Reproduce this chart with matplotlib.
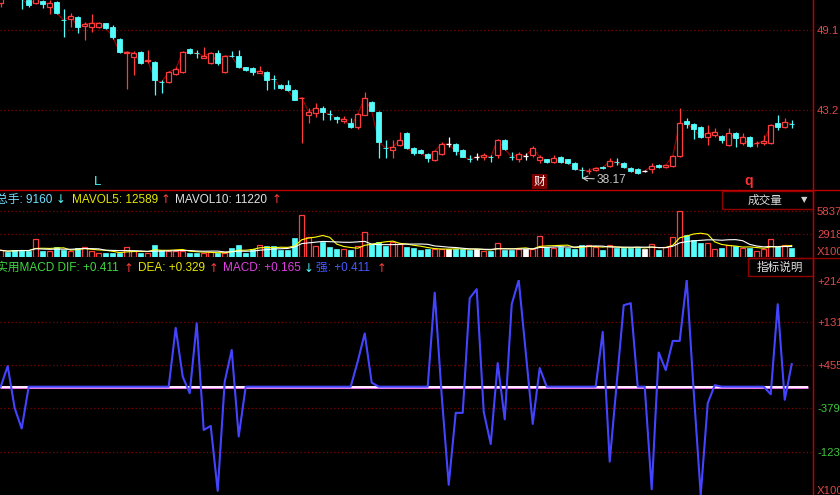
import matplotlib
matplotlib.use('Agg')
import matplotlib.pyplot as plt
from matplotlib.lines import Line2D
from matplotlib.patches import Rectangle
import matplotlib.transforms as mtrans
import numpy as np
import pandas as pd

plt.rcParams['font.family'] = ['Liberation Sans', 'Noto Sans CJK SC', 'DejaVu Sans']

# ---------------- data ----------------
opens = [51.10, 52.00, 52.20, 51.80, 51.31, 51.09, 51.24, 50.79, 51.16, 49.84,
         49.91, 50.06, 49.39, 49.32, 49.32, 49.61, 49.32, 48.43, 47.40, 47.11,
         47.47, 46.80, 46.74, 45.28, 45.26, 45.85, 46.00, 47.70, 47.42, 47.03,
         46.66, 47.40, 46.00, 47.20, 47.18, 46.37, 46.30, 45.93, 46.00, 45.50,
         45.04, 45.04, 44.67, 44.08, 42.83, 42.98, 43.34, 42.92, 42.68, 42.39,
         42.24, 41.94, 42.83, 43.79, 43.05, 40.42, 40.25, 40.62, 41.50, 40.40,
         40.25, 39.95, 39.51, 39.95, 40.69, 40.69, 40.25, 39.60, 39.73, 39.73,
         39.75, 39.88, 40.99, 39.75, 39.58, 39.81, 39.88, 39.51, 39.58, 39.36,
         39.73, 39.58, 39.29, 38.80, 38.70, 38.77, 39.00, 39.07, 39.38, 39.29,
         38.92, 38.85, 38.70, 38.85, 39.14, 39.00, 39.07, 39.81, 42.39, 42.17,
         41.94, 41.21, 41.35, 41.28, 40.62, 41.50, 40.76, 41.21, 40.74, 40.76,
         40.76, 42.24, 41.94, 42.19]
closes = [51.60, 51.60, 51.80, 51.40, 50.94, 51.35, 51.02, 51.09, 50.35, 49.82,
          50.13, 49.32, 49.54, 49.61, 49.61, 49.25, 48.58, 47.47, 47.47, 47.40,
          46.66, 46.85, 45.41, 45.26, 46.00, 46.22, 47.47, 47.40, 47.40, 47.18,
          47.40, 46.66, 47.18, 47.18, 46.37, 46.15, 46.00, 46.07, 45.41, 45.48,
          44.82, 44.67, 43.94, 44.12, 43.05, 43.34, 43.05, 42.90, 42.53, 42.53,
          41.94, 42.90, 44.08, 43.12, 40.84, 40.40, 40.47, 40.99, 40.40, 40.03,
          40.03, 39.66, 40.17, 40.69, 40.69, 40.17, 39.73, 39.58, 39.73, 39.88,
          39.73, 40.99, 40.32, 39.73, 39.95, 39.81, 40.40, 39.73, 39.36, 39.66,
          39.36, 39.29, 38.85, 38.77, 38.72, 38.92, 38.92, 39.44, 39.36, 39.00,
          38.70, 38.55, 38.70, 39.07, 39.00, 39.14, 39.81, 42.24, 42.17, 41.80,
          41.21, 41.50, 41.58, 40.99, 41.50, 41.13, 41.21, 40.54, 40.76, 40.91,
          42.09, 41.94, 42.31, 42.17]
highs = [51.90, 52.30, 52.50, 52.00, 51.40, 51.50, 51.31, 51.31, 51.24, 50.65,
         50.35, 50.13, 49.69, 50.28, 49.70, 49.65, 49.47, 48.50, 47.55, 47.55,
         47.55, 47.62, 46.80, 45.41, 46.05, 46.37, 47.55, 47.75, 47.62, 47.84,
         47.45, 47.62, 47.25, 47.55, 47.62, 46.40, 46.35, 46.44, 46.05, 45.78,
         45.10, 45.41, 44.75, 44.15, 43.34, 43.71, 43.49, 43.20, 42.75, 42.76,
         42.61, 42.95, 44.53, 43.85, 43.10, 40.99, 40.99, 41.58, 41.55, 40.45,
         40.30, 40.00, 40.22, 40.84, 41.21, 40.75, 40.30, 39.88, 40.03, 40.03,
         39.88, 41.05, 41.05, 40.10, 40.10, 40.03, 40.54, 39.88, 39.62, 39.88,
         39.80, 39.62, 39.33, 39.00, 38.92, 39.00, 39.07, 39.66, 39.66, 39.36,
         38.97, 38.90, 38.80, 39.29, 39.20, 39.18, 39.85, 43.34, 42.61, 42.25,
         42.00, 42.09, 41.87, 41.35, 41.87, 41.55, 41.50, 41.25, 40.91, 41.35,
         42.15, 42.83, 42.61, 42.46]
lows = [50.80, 51.40, 51.50, 50.65, 50.79, 51.00, 50.72, 50.28, 50.30, 48.58,
        49.32, 48.88, 48.36, 48.95, 49.25, 49.20, 48.43, 47.40, 44.75, 45.78,
        46.60, 46.70, 44.30, 44.45, 45.20, 45.80, 45.95, 47.35, 47.03, 47.00,
        46.60, 46.52, 45.95, 47.11, 46.30, 46.10, 45.78, 45.90, 44.67, 44.75,
        44.75, 44.60, 43.90, 40.76, 42.24, 42.68, 42.46, 42.46, 42.24, 42.24,
        41.87, 41.80, 42.80, 43.10, 39.66, 39.66, 39.66, 40.55, 40.35, 39.88,
        39.95, 39.36, 39.45, 39.90, 40.47, 39.88, 39.70, 39.36, 39.51, 39.51,
        39.36, 39.66, 40.28, 39.51, 39.36, 39.51, 39.73, 39.29, 39.30, 39.29,
        39.30, 39.22, 38.80, 38.17, 38.50, 38.72, 38.85, 39.00, 39.14, 38.95,
        38.65, 38.50, 38.60, 38.55, 38.95, 38.95, 39.00, 39.75, 41.87, 41.06,
        41.15, 40.62, 41.21, 40.76, 40.58, 40.47, 40.62, 40.50, 40.47, 40.62,
        40.70, 41.72, 41.87, 41.87]
volumes = [850, 635, 888, 926, 761, 2221, 761, 761, 1206, 888,
           761, 1142, 1332, 761, 508, 508, 508, 508, 1206, 761,
           508, 508, 1586, 888, 761, 761, 761, 508, 571, 508,
           635, 508, 508, 1142, 1561, 571, 1000, 1561, 1358, 1396,
           888, 888, 2411, 5330, 2538, 1459, 1904, 1269, 1015, 1015,
           825, 1459, 3109, 1713, 1904, 1459, 1904, 1713, 1269, 1079,
           888, 1053, 1053, 977, 1053, 1053, 977, 926, 1053, 761,
           761, 1815, 926, 926, 1053, 1053, 1053, 2627, 1269, 1180,
           1269, 1180, 1053, 1561, 1561, 1269, 850, 1485, 1180, 1180,
           1180, 1180, 1053, 1688, 850, 1269, 2538, 5837, 2830, 2119,
           1777, 1815, 1053, 1180, 1485, 1396, 1180, 1180, 761, 1053,
           2246, 1358, 1485, 1180]
strength = [0, 0.41, -0.43, -0.83, 0, 0, 0, 0, 0, 0,
            0, 0, 0, 0, 0, 0, 0, 0, 0, 0,
            0, 0, 0, 0, 0, 1.17, 0.20, -0.13, 1.26, -0.86,
            -0.78, -2.07, 0.10, 0.73, -0.99, 0, 0, 0, 0, 0,
            0, 0, 0, 0, 0, 0, 0, 0, 0, 0,
            0, 0.50, 1.06, 0.08, 0, 0, 0, 0, 0, 0,
            0, 0, 1.87, -0.18, -1.95, -0.52, -0.52, 1.76, 1.94, -0.50,
            -1.14, 0.47, -0.65, 1.64, 2.12, 0.69, -0.74, 0.37, 0, 0,
            0, 0, 0, 0, 0, 0, 1.09, -1.49, 0.07, 1.62,
            1.66, 0, 0, -2.04, 0.68, 0.33, 0.91, 0.91, 2.12, -0.10,
            -2.15, -0.33, 0.03, 0, 0, 0, 0, 0, 0, 0,
            -0.15, 1.64, -0.26, 0.45]

price_ticks = [49.10, 43.20]
price_labels = ["49.1", "43.2"]
vol_ticks = [5837, 2918, 761]
vol_labels = ["5837", "2918", "X100"]
vol_grid = [5837, 2918]
macd_ticks = [2.10, 1.29, 0.43, -0.43, -1.30, -2.05]
macd_labels = ["+214", "+131", "+455", "-379", "-123", "X100"]
macd_grid = [1.29, 0.43, -0.43, -1.30]

# ---------------- style ----------------
RED = '#ff3c3c'
CYAN = '#54fcfc'
WHITE = '#ffffff'
GRID = '#800000'
LBL_RED = '#e04848'
LBL_GRN = '#3cc83c'
FS_HDR = 8.5
FS_TICK = 8.2

W, H = 840, 495
fig = plt.figure(figsize=(8.4, 4.95), dpi=100, facecolor='black')


def fx(px):
    return px / W


def fy(py):
    return 1 - py / H


XL = (-0.1, 116.04)
ax_p = fig.add_axes([0, fy(190), fx(813), 190 / H])
ax_v = fig.add_axes([0, fy(257), fx(813), 48 / H])
ax_m = fig.add_axes([0, 0, fx(813), 215 / H])

for ax in (ax_p, ax_v, ax_m):
    ax.set_facecolor('black')
    ax.set_xlim(*XL)
    ax.set_xticks([])
    for s in ('top', 'left', 'bottom'):
        ax.spines[s].set_visible(False)
    ax.spines['right'].set_color('#c00000')
    ax.yaxis.tick_right()
    ax.tick_params(axis='y', length=0, pad=2.9, labelsize=FS_TICK)

k = np.arange(len(opens))
o = np.array(opens)
c = np.array(closes)
h = np.array(highs)
l = np.array(lows)
up = c > o
dn = c < o
eq = c == o
col = np.where(up, RED, np.where(dn, CYAN, WHITE))

# ---------- price panel ----------
ax_p.set_ylim(37.30, 51.31)
for g in price_ticks:
    ax_p.axhline(g, color=GRID, lw=0.9, ls=(0, (1, 2)), zorder=0)
ax_p.plot(k, c, color='#a00000', lw=0.8, zorder=1)
ax_p.vlines(k, l, h, colors=col, lw=0.9, zorder=2)
ax_p.bar(k[up], (c - o)[up], bottom=o[up], width=0.7, facecolor='black',
         edgecolor=RED, lw=0.9, zorder=3)
ax_p.bar(k[dn], (o - c)[dn], bottom=c[dn], width=0.7, facecolor=CYAN,
         edgecolor=CYAN, lw=0.6, zorder=3)
ax_p.hlines(c[eq], k[eq] - 0.35, k[eq] + 0.35, colors=WHITE, lw=0.9, zorder=3)
ax_p.set_yticks(price_ticks)
ax_p.set_yticklabels(price_labels, color=LBL_RED)

tb = mtrans.blended_transform_factory(ax_p.transData, ax_p.transAxes)
ax_p.text(13.8, 0.04, 'L', color='#40ffff', fontsize=9.5, ha='center', va='center', transform=tb)
ax_p.text(106.9, 0.045, 'q', color='#ff3030', fontsize=10, fontweight='bold',
          ha='center', va='center', transform=tb)
ax_p.text(77, 0.045, '财', color='white', fontsize=8.5, ha='center', va='center',
          transform=tb, family=['Noto Sans CJK SC'],
          bbox=dict(boxstyle='square,pad=0.12', facecolor='#7a0000', edgecolor='none'))
imin = int(np.argmin(l))
ax_p.annotate(f'{l[imin]:.2f}', xy=(imin, l[imin]), xytext=(11, -1),
              textcoords='offset points', color='#c8c8c8', fontsize=8.6,
              va='center', ha='left',
              arrowprops=dict(arrowstyle='->', color='#c8c8c8', lw=0.8,
                              shrinkA=0, shrinkB=0))

# ---------- volume panel ----------
ax_v.set_ylim(0, 6091)
for g in vol_grid:
    ax_v.axhline(g, color=GRID, lw=0.9, ls=(0, (1, 2)), zorder=0)
v = np.array(volumes)
ax_v.bar(k[up], v[up], width=0.68, facecolor='black', edgecolor=RED, lw=0.9, zorder=2)
ax_v.bar(k[~up], v[~up], width=0.68, facecolor=col[~up], edgecolor=col[~up], lw=0.5, zorder=2)
ma5 = pd.Series(v).rolling(5, min_periods=1).mean()
ma10 = pd.Series(v).rolling(10, min_periods=1).mean()
ax_v.plot(k, ma5, color='#ffff00', lw=0.8, zorder=3)
ax_v.plot(k, ma10, color='#ffffff', lw=0.8, zorder=3)
ax_v.set_yticks(vol_ticks)
ax_v.set_yticklabels(vol_labels, color=LBL_RED)

# ---------- MACD panel ----------
ax_m.set_ylim(-2.153, 2.121)
for g in macd_grid:
    ax_m.axhline(g, color=GRID, lw=0.9, ls=(0, (1, 2)), zorder=0)
ax_m.hlines(0, XL[0], 115.3, colors='#ff80ff', lw=2.0, zorder=1)
ax_m.hlines(0, XL[0], 115.3, colors='#ffffff', lw=1.2, zorder=2)
ax_m.plot(k, strength, color='#4444ff', lw=1.5, zorder=3)
ax_m.set_yticks(macd_ticks)
ax_m.set_yticklabels(macd_labels)
for t, lab in zip(ax_m.get_yticklabels(), macd_labels):
    t.set_color(LBL_GRN if lab.startswith('-') else LBL_RED)

# ---------- frame lines ----------
fig.add_artist(Line2D([fx(813), fx(813)], [0, 1], color='#c00000', lw=1.0))
fig.add_artist(Line2D([0, 1], [fy(190.5), fy(190.5)], color='#c00000', lw=1.0))
fig.add_artist(Line2D([fx(748), 1], [fy(257.5), fy(257.5)], color='#900000', lw=1.0))

# boxes
fig.add_artist(Rectangle((fx(722), fy(209)), fx(813) - fx(722), 18 / H,
                         facecolor='black', edgecolor='#900000', lw=1.0))
fig.text(fx(748), fy(200), '成交量', color='#d8d8d8', fontsize=8.4,
         va='center', ha='left', family=['Noto Sans CJK SC'])
fig.text(fx(804), fy(200), '▼', color='#d0d0d0', fontsize=6, va='center', ha='center',
         family=['DejaVu Sans'])
fig.add_artist(Rectangle((fx(748), fy(276)), fx(813) - fx(748), 18 / H,
                         facecolor='black', edgecolor='#900000', lw=1.0))
fig.text(fx(780), fy(267), '指标说明', color='#e0e0e0', fontsize=8.4,
         va='center', ha='center', family=['Noto Sans CJK SC'])

# ---------- headers ----------
def hdr(x, y, s, color):
    fig.text(fx(x), fy(y), s, color=color, fontsize=FS_HDR, va='center', ha='left')


def arrow(x, y, s, color):
    fig.text(fx(x), fy(y), s, color=color, fontsize=FS_HDR, va='center', ha='left',
             family=['DejaVu Sans'])

hdr(-4, 200, '总手: 9160', '#70e0ff')
arrow(56, 200, '↓', CYAN)
hdr(72, 200, 'MAVOL5: 12589', '#e8e800')
arrow(161, 200, '↑', RED)
hdr(175, 200, 'MAVOL10: 11220', '#e0e0e0')
arrow(272, 200, '↑', RED)

hdr(-4, 268, '实用MACD DIF: +0.411', '#40d840')
arrow(124, 268, '↑', RED)
hdr(138, 268, 'DEA: +0.329', '#e8e800')
arrow(209, 268, '↑', RED)
hdr(223, 268, 'MACD: +0.165', '#e040e0')
arrow(304, 268, '↓', CYAN)
hdr(316, 268, '强: +0.411', '#4858ff')
arrow(377, 268, '↑', RED)

fig.savefig('out.png', dpi=100, facecolor='black')
